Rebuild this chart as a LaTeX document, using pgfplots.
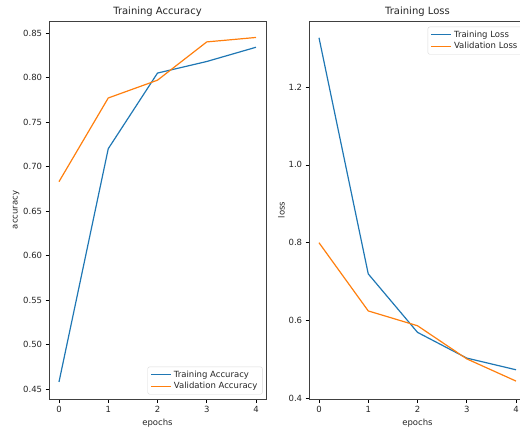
\documentclass[border=0pt]{standalone}
\usepackage{fontspec}
\setmainfont{DejaVu Sans}
\usepackage{pgfplots}
\pgfplotsset{compat=1.18}
\definecolor{mblue}{HTML}{1F77B4}
\definecolor{morange}{HTML}{FF7F0E}
\pgfplotsset{
  mystyle/.style={
    scale only axis,
    width=216.7pt, height=378pt,
    xmin=-0.2, xmax=4.2,
    xtick={0,1,2,3,4},
    xtick pos=bottom, ytick pos=left,
    tick align=outside,
    major tick length=3.5pt,
    every tick/.style={black, line width=0.6pt},
    axis line style={black!75, line width=0.6pt},
    tick label style={font=\fontsize{8.5}{10}\selectfont, text=black!85},
    label style={font=\fontsize{8.5}{10}\selectfont, text=black!85},
    title style={font=\fontsize{10}{12}\selectfont, text=black!85, yshift=-5pt},
    /pgf/number format/assume math mode=true,
    xlabel={epochs},
    legend cell align=left,
    legend image code/.code={\draw[#1, line width=1.2pt] (0pt,0pt) -- (20pt,0pt);},
    legend style={font=\fontsize{8.5}{10}\selectfont, text=black!85, draw=black!15, rounded corners=2pt, inner xsep=3pt, inner ysep=2pt, row sep=-0.5pt},
  }
}
\begin{document}
\begin{tikzpicture}[x=1pt,y=1pt]
\useasboundingbox (0,0) rectangle (520,432);
\clip (0,0) rectangle (520,432);
\begin{axis}[mystyle,
  at={(49.15pt,33pt)}, anchor=south west,
  ymin=0.4388, ymax=0.8635,
  ytick={0.45,0.5,0.55,0.6,0.65,0.7,0.75,0.8,0.85},
  yticklabel style={/pgf/number format/.cd, fixed, fixed zerofill, precision=2},
  ylabel={accuracy},
  ylabel style={yshift=-3pt},
  title={Training Accuracy},
  legend style={at={(0.985,0.012)}, anchor=south east},
]
\addplot[mblue, line width=1.2pt] coordinates {(0,0.458) (1,0.720) (2,0.805) (3,0.818) (4,0.834)};
\addlegendentry{Training Accuracy}
\addplot[morange, line width=1.2pt] coordinates {(0,0.683) (1,0.777) (2,0.797) (3,0.840) (4,0.845)};
\addlegendentry{Validation Accuracy}
\end{axis}
\begin{axis}[mystyle,
  at={(309.15pt,33pt)}, anchor=south west,
  ymin=0.399, ymax=1.369,
  ytick={0.4,0.6,0.8,1.0,1.2},
  yticklabel style={/pgf/number format/.cd, fixed, fixed zerofill, precision=1},
  ylabel={loss},
  ylabel style={yshift=-3pt},
  title={Training Loss},
  legend style={at={(0.985,0.985)}, anchor=north east},
]
\addplot[mblue, line width=1.2pt] coordinates {(0,1.326) (1,0.720) (2,0.570) (3,0.504) (4,0.474)};
\addlegendentry{Training Loss}
\addplot[morange, line width=1.2pt] coordinates {(0,0.800) (1,0.625) (2,0.587) (3,0.502) (4,0.445)};
\addlegendentry{Validation Loss}
\end{axis}
\end{tikzpicture}
\end{document}
